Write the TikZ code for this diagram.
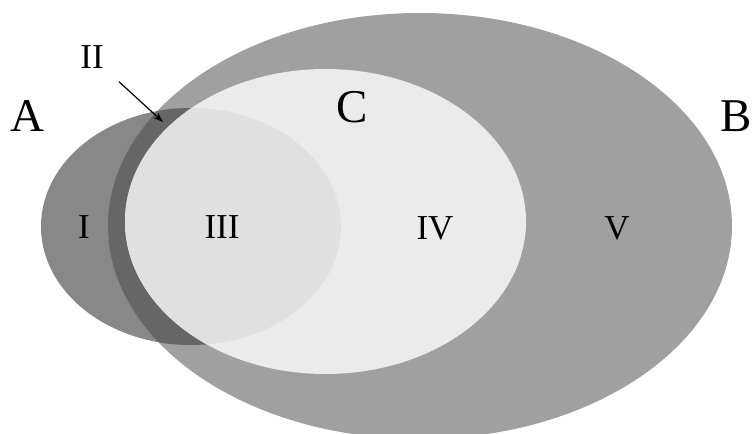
\documentclass[tikz,border=0pt]{standalone}
\usepackage{fontspec}
\setmainfont{Liberation Serif}
\usetikzlibrary{arrows.meta}
\definecolor{areaI}{RGB}{136,136,136}
\definecolor{areaII}{RGB}{102,102,102}
\definecolor{areaIII}{RGB}{224,224,224}
\definecolor{areaIV}{RGB}{235,235,235}
\definecolor{areaV}{RGB}{160,160,160}

\begin{document}
\begin{tikzpicture}[x=1pt, y=-1pt,
    setname/.style={font=\fontsize{47}{47}\selectfont},
    region/.style={font=\fontsize{35}{35}\selectfont}]

    \useasboundingbox (0,0) rectangle (753,434);
    \clip (0,0) rectangle (753,434);

    % B, then A on top, the overlap darker
    \fill[areaV] (420,226) ellipse [x radius=312, y radius=213];
    \fill[areaI] (191,226.5) ellipse [x radius=150, y radius=118.5];
    \begin{scope}
        \clip (191,226.5) ellipse [x radius=150, y radius=118.5];
        \fill[areaII] (420,226) ellipse [x radius=312, y radius=213];
    \end{scope}

    % C, lighter where it meets A
    \fill[areaIV] (325.5,221.5) ellipse [x radius=200.5, y radius=152.5];
    \begin{scope}
        \clip (325.5,221.5) ellipse [x radius=200.5, y radius=152.5];
        \fill[areaIII] (191,226.5) ellipse [x radius=150, y radius=118.5];
    \end{scope}

    \node[setname] (nameA) at (27,116) {A};
    \node[setname] (nameB) at (736,116) {B};
    \node[setname] (nameC) at (352,107) {C};

    \node[region] (lblI) at (84,227) {I};
    \node[region] (lblII) at (92,57) {II};
    \node[region] (lblIII) at (222,227) {III};
    \node[region] (lblIV) at (435,228) {IV};
    \node[region] (lblV) at (617,228) {V};

    \coordinate (tipII) at (163,122);
    \draw[line width=1.2pt, -{Stealth[length=10pt, width=7pt]}, shorten <=16pt] (lblII) -- (tipII);

\end{tikzpicture}
\end{document}
